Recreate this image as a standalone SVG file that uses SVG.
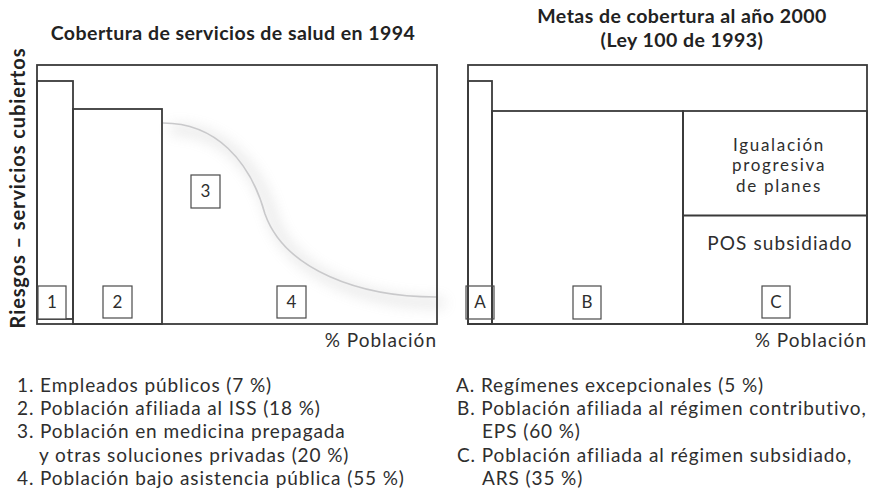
<svg xmlns="http://www.w3.org/2000/svg" width="870" height="504" viewBox="0 0 870 504">
<style>
.frame{fill:none;stroke:#3a3a3a;stroke-width:1.8}
.box{fill:#fff;stroke:#4a4a4a;stroke-width:1.2}
.t{font-family:Lato,"Open Sans","Liberation Sans",sans-serif;fill:#2e2e2e}
.title{font-size:19.5px;font-weight:bold;fill:#222;letter-spacing:0.45px}
.lbl{font-size:17px;text-anchor:middle}
.leg{font-size:19px;letter-spacing:0.9px}
.in{font-size:17px;letter-spacing:1.7px;text-anchor:middle}
.ax{font-size:19px;letter-spacing:1px;text-anchor:end}
</style>
<defs>
<filter id="blur" x="-20%" y="-20%" width="140%" height="140%"><feGaussianBlur stdDeviation="7"/></filter>
</defs>
<rect width="870" height="504" fill="#fff"/>
<text class="t title" x="233" y="40" text-anchor="middle">Cobertura de servicios de salud en 1994</text>
<text class="t title" x="682" y="23" text-anchor="middle">Metas de cobertura al año 2000</text>
<text class="t title" x="682" y="47" text-anchor="middle">(Ley 100 de 1993)</text>
<text class="t title" style="font-size:20px;letter-spacing:0.9px" transform="translate(25,188) rotate(-90)" text-anchor="middle">Riesgos – servicios cubiertos</text>

<g id="left-panel">
<path d="M163,123 C215,123 250,160 265,214 C285,270 360,297 436,297" fill="none" stroke="#999" stroke-width="8" opacity="0.28" filter="url(#blur)" transform="translate(8,6)"/>
<rect class="frame" x="37" y="65" width="400" height="259"/>
<rect class="frame" x="37" y="81" width="36" height="238"/>
<rect class="frame" x="73" y="109" width="89" height="215"/>
<path d="M163,123 C215,123 250,160 265,214 C285,270 360,297 436,297" fill="none" stroke="#c9c9cb" stroke-width="1.6"/>
</g>
<g id="n1"><rect class="box" x="38" y="286" width="28" height="33"/><text class="t lbl" x="52" y="308">1</text></g>
<g id="n2"><rect class="box" x="103" y="286" width="29" height="32"/><text class="t lbl" x="117.5" y="308">2</text></g>
<g id="n3"><rect class="box" x="191" y="175" width="29" height="33"/><text class="t lbl" x="205.5" y="197">3</text></g>
<g id="n4"><rect class="box" x="277" y="286" width="29" height="32"/><text class="t lbl" x="291.5" y="308">4</text></g>
<text class="t ax" x="437" y="347">% Población</text>

<g id="right-panel">
<rect class="frame" x="468" y="65" width="399" height="259"/>
<rect class="frame" x="468" y="81" width="24" height="243"/>
<rect class="frame" x="492" y="111" width="191" height="213"/>
<rect class="frame" x="683" y="111" width="184" height="213"/>
<line class="frame" x1="683" y1="215.5" x2="867" y2="215.5"/>
<text class="t in" x="779" y="150.5">Igualación</text>
<text class="t in" x="779" y="171">progresiva</text>
<text class="t in" x="779" y="191.5">de planes</text>
<text class="t in" x="780" y="250" style="font-size:19px;letter-spacing:1.1px">POS subsidiado</text>
</g>
<g id="nA"><rect class="box" x="466" y="286" width="28" height="33" style="fill:none"/><text class="t lbl" x="480" y="308">A</text></g>
<g id="nB"><rect class="box" x="573" y="286" width="28" height="33"/><text class="t lbl" x="587" y="308">B</text></g>
<g id="nC"><rect class="box" x="762" y="286" width="28" height="32"/><text class="t lbl" x="776" y="308">C</text></g>
<text class="t ax" x="867" y="347">% Población</text>

<g id="legend-left" class="t leg">
<text x="17" y="392">1. Empleados públicos (7 %)</text>
<text x="17" y="415">2. Población afiliada al ISS (18 %)</text>
<text x="17" y="438">3. Población en medicina prepagada</text>
<text x="39" y="462">y otras soluciones privadas (20 %)</text>
<text x="17" y="485">4. Población bajo asistencia pública (55 %)</text>
</g>
<g id="legend-right" class="t leg">
<text x="456" y="392">A. Regímenes excepcionales (5 %)</text>
<text x="457" y="415">B. Población afiliada al régimen contributivo,</text>
<text x="482" y="438">EPS (60 %)</text>
<text x="457" y="462">C. Población afiliada al régimen subsidiado,</text>
<text x="482" y="485">ARS (35 %)</text>
</g>
<g id="connectors"></g>
</svg>
